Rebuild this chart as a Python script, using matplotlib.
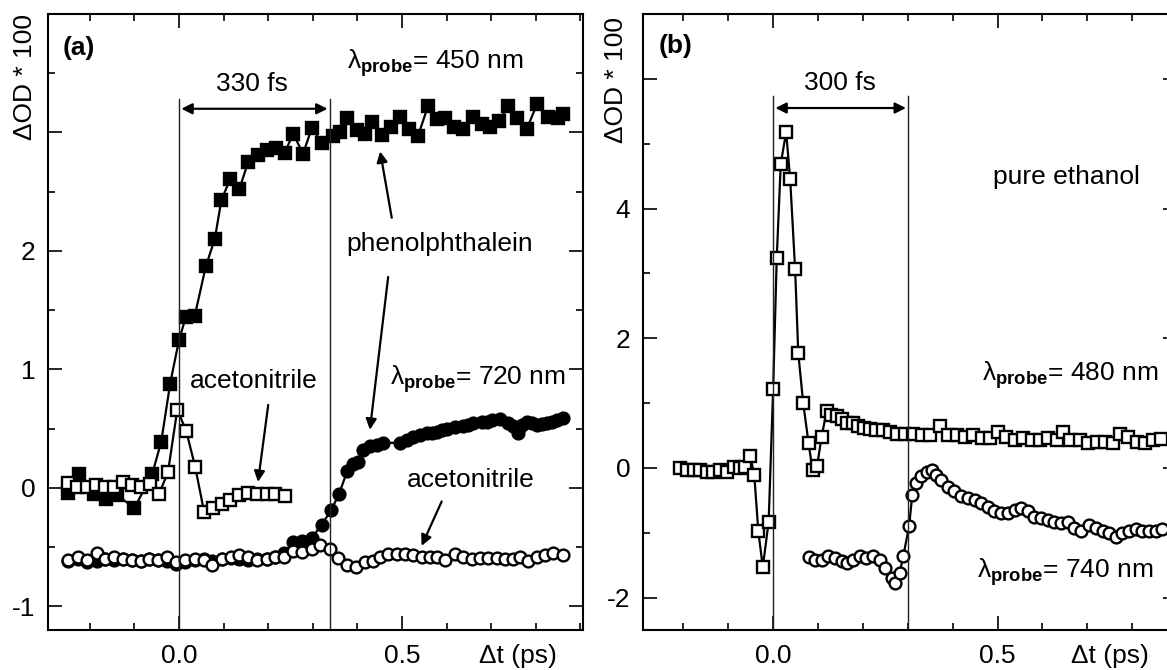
import matplotlib
matplotlib.use('Agg')
import matplotlib.pyplot as plt
from matplotlib.ticker import MultipleLocator, FuncFormatter

plt.rcParams['font.family'] = ['Liberation Sans', 'DejaVu Sans']
plt.rcParams['mathtext.fontset'] = 'custom'
plt.rcParams['mathtext.rm'] = 'Liberation Sans'
plt.rcParams['mathtext.it'] = 'Liberation Sans:italic'
plt.rcParams['mathtext.bf'] = 'Liberation Sans:bold'

# ---- panel (a): phenolphthalein / acetonitrile ----
t_a450 = [-0.25, -0.225, -0.19, -0.165, -0.14, -0.10, -0.06, -0.04, -0.02, 0.0,
          0.015, 0.035, 0.06, 0.08, 0.095, 0.115, 0.135, 0.155, 0.177, 0.197,
          0.217, 0.237, 0.256, 0.278, 0.298, 0.32, 0.345, 0.36, 0.377, 0.40,
          0.418, 0.433, 0.455, 0.476, 0.496, 0.516, 0.536, 0.558, 0.578, 0.596,
          0.617, 0.637, 0.659, 0.679, 0.698, 0.718, 0.738, 0.758, 0.78, 0.803,
          0.827, 0.85, 0.862]
od_a450 = [-0.04, 0.12, -0.05, -0.09, -0.06, -0.17, 0.12, 0.39, 0.88, 1.25,
           1.44, 1.45, 1.87, 2.10, 2.43, 2.61, 2.52, 2.75, 2.81, 2.85,
           2.87, 2.83, 2.99, 2.82, 3.04, 2.91, 2.97, 3.00, 3.12, 3.02,
           2.99, 3.09, 2.98, 3.05, 3.13, 3.03, 2.97, 3.22, 3.11, 3.12,
           3.05, 3.03, 3.13, 3.07, 3.05, 3.10, 3.22, 3.12, 3.03, 3.24,
           3.13, 3.12, 3.16]

t_a450_acn = [-0.249, -0.229, -0.206, -0.186, -0.166, -0.146, -0.126, -0.105, -0.085, -0.065,
              -0.045, -0.025, -0.004, 0.016, 0.036, 0.056, 0.076, 0.096, 0.114, 0.135,
              0.155, 0.175, 0.197, 0.215, 0.238]
od_a450_acn = [0.04, 0.01, 0.01, 0.02, 0.01, 0.01, 0.05, 0.02, 0.01, 0.03,
               -0.05, 0.13, 0.66, 0.48, 0.18, -0.20, -0.17, -0.14, -0.10, -0.06,
               -0.04, -0.05, -0.05, -0.05, -0.07]

t_a720 = [-0.249, -0.226, -0.206, -0.184, -0.166, -0.146, -0.126, -0.105, -0.085, -0.067,
          -0.047, -0.027, -0.007, 0.013, 0.036, 0.056, 0.074, 0.096, 0.117, 0.135,
          0.155, 0.175, 0.197, 0.215, 0.235, 0.256, 0.276, 0.298, 0.32, 0.341,
          0.359, 0.377, 0.39, 0.401, 0.413, 0.428, 0.444, 0.457, 0.496, 0.511,
          0.525, 0.54, 0.556, 0.567, 0.578, 0.59, 0.601, 0.619, 0.637, 0.648,
          0.659, 0.679, 0.69, 0.702, 0.72, 0.738, 0.75, 0.76, 0.77, 0.78,
          0.792, 0.803, 0.815, 0.825, 0.837, 0.848, 0.861]
od_a720 = [-0.62, -0.60, -0.63, -0.62, -0.60, -0.61, -0.60, -0.61, -0.62, -0.60,
           -0.61, -0.62, -0.64, -0.63, -0.61, -0.60, -0.62, -0.60, -0.59, -0.60,
           -0.61, -0.60, -0.60, -0.58, -0.55, -0.46, -0.45, -0.42, -0.31, -0.19,
           -0.05, 0.14, 0.20, 0.22, 0.32, 0.35, 0.36, 0.38, 0.38, 0.40,
           0.43, 0.45, 0.46, 0.46, 0.47, 0.49, 0.50, 0.51, 0.52, 0.53,
           0.55, 0.56, 0.56, 0.57, 0.58, 0.55, 0.52, 0.46, 0.53, 0.56,
           0.55, 0.53, 0.54, 0.55, 0.56, 0.57, 0.59]

t_a720_acn = [-0.249, -0.226, -0.206, -0.184, -0.166, -0.146, -0.126, -0.105, -0.085, -0.067,
              -0.047, -0.027, -0.007, 0.013, 0.036, 0.056, 0.074, 0.096, 0.117, 0.135,
              0.155, 0.175, 0.197, 0.215, 0.235, 0.256, 0.276, 0.298, 0.316, 0.339,
              0.357, 0.377, 0.397, 0.417, 0.435, 0.451, 0.469, 0.489, 0.507, 0.525,
              0.545, 0.563, 0.578, 0.596, 0.619, 0.637, 0.657, 0.675, 0.693, 0.713,
              0.731, 0.749, 0.765, 0.783, 0.803, 0.821, 0.839, 0.861]
od_a720_acn = [-0.61, -0.58, -0.61, -0.55, -0.60, -0.58, -0.60, -0.61, -0.62, -0.60,
               -0.61, -0.58, -0.63, -0.61, -0.60, -0.61, -0.65, -0.60, -0.58, -0.57,
               -0.58, -0.61, -0.60, -0.58, -0.58, -0.53, -0.54, -0.52, -0.48, -0.52,
               -0.59, -0.65, -0.67, -0.63, -0.62, -0.58, -0.56, -0.56, -0.56, -0.57,
               -0.58, -0.58, -0.58, -0.61, -0.56, -0.58, -0.60, -0.59, -0.59, -0.59,
               -0.60, -0.60, -0.58, -0.62, -0.58, -0.57, -0.55, -0.57]

# ---- panel (b): pure ethanol ----
t_b480 = [-0.207, -0.192, -0.177, -0.162, -0.147, -0.133, -0.118, -0.103, -0.088, -0.073,
          -0.062, -0.051, -0.042, -0.033, -0.023, -0.01, 0.0, 0.008, 0.017, 0.029,
          0.038, 0.049, 0.056, 0.067, 0.079, 0.088, 0.098, 0.108, 0.119, 0.13,
          0.142, 0.153, 0.165, 0.178, 0.19, 0.202, 0.215, 0.23, 0.245, 0.26,
          0.275, 0.294, 0.312, 0.331, 0.35, 0.372, 0.39, 0.409, 0.428, 0.446,
          0.465, 0.483, 0.502, 0.52, 0.539, 0.557, 0.576, 0.595, 0.613, 0.632,
          0.647, 0.661, 0.684, 0.702, 0.721, 0.739, 0.758, 0.773, 0.791, 0.81,
          0.828, 0.847, 0.865]
od_b480 = [0.0, -0.03, -0.03, -0.04, -0.06, -0.07, -0.03, -0.06, 0.02, 0.0,
           0.02, 0.18, -0.11, -0.98, -1.53, -0.83, 1.21, 3.23, 4.69, 5.18,
           4.45, 3.06, 1.77, 1.0, 0.38, -0.04, 0.03, 0.48, 0.87, 0.82,
           0.80, 0.75, 0.70, 0.69, 0.64, 0.61, 0.60, 0.58, 0.58, 0.56,
           0.53, 0.53, 0.53, 0.51, 0.51, 0.64, 0.51, 0.51, 0.48, 0.51,
           0.46, 0.46, 0.56, 0.48, 0.43, 0.46, 0.43, 0.43, 0.46, 0.43,
           0.56, 0.43, 0.43, 0.38, 0.40, 0.40, 0.38, 0.53, 0.48, 0.40,
           0.38, 0.43, 0.45]

t_b740 = [0.079, 0.093, 0.108, 0.123, 0.138, 0.153, 0.164, 0.178, 0.193, 0.208,
          0.223, 0.238, 0.249, 0.264, 0.271, 0.282, 0.29, 0.303, 0.31, 0.319,
          0.33, 0.342, 0.353, 0.364, 0.375, 0.39, 0.404, 0.419, 0.434, 0.449,
          0.464, 0.478, 0.493, 0.508, 0.523, 0.538, 0.553, 0.567, 0.582, 0.597,
          0.612, 0.627, 0.642, 0.656, 0.671, 0.686, 0.704, 0.719, 0.734, 0.749,
          0.764, 0.778, 0.793, 0.808, 0.823, 0.838, 0.853, 0.867]
od_b740 = [-1.38, -1.42, -1.42, -1.36, -1.39, -1.44, -1.47, -1.42, -1.36, -1.39,
           -1.36, -1.42, -1.54, -1.70, -1.77, -1.62, -1.36, -0.90, -0.42, -0.24,
           -0.13, -0.06, -0.03, -0.11, -0.18, -0.29, -0.36, -0.44, -0.47, -0.49,
           -0.54, -0.60, -0.67, -0.70, -0.70, -0.65, -0.62, -0.67, -0.75, -0.77,
           -0.80, -0.83, -0.85, -0.83, -0.93, -0.98, -0.88, -0.93, -0.98, -1.00,
           -1.06, -1.00, -0.98, -0.95, -0.98, -0.98, -0.98, -0.95]

FS = 19
W, H = 1167, 670
fig = plt.figure(figsize=(W / 100, H / 100), dpi=100)
ax_a = fig.add_axes([48 / W, 40 / H, 535 / W, 616 / H])
ax_b = fig.add_axes([643 / W, 40 / H, 534 / W, 616 / H])

mk = dict(ms=8.5, mew=1.7, lw=1.6, color='black', mec='black')


def style_axes(ax, xlim, ylim, ymajor, ymax_label, dt_x):
    ax.set_xlim(*xlim)
    ax.set_ylim(*ylim)
    ax.xaxis.set_major_locator(MultipleLocator(0.5))
    ax.xaxis.set_minor_locator(MultipleLocator(0.1))
    ax.xaxis.set_major_formatter(FuncFormatter(lambda v, p: f'{v:.1f}'))
    ax.yaxis.set_major_locator(MultipleLocator(ymajor))
    ax.yaxis.set_minor_locator(MultipleLocator(ymajor / 2))
    ax.yaxis.set_major_formatter(FuncFormatter(
        lambda v, p: '' if v > ymax_label + 1e-6 else f'{v:.0f}'))
    ax.tick_params(which='both', direction='in', top=True, right=True,
                   width=1.2, labelsize=FS)
    ax.tick_params(which='major', length=10)
    ax.tick_params(which='minor', length=5)
    ax.tick_params(axis='x', pad=10)
    ax.tick_params(axis='y', pad=9)
    for s in ax.spines.values():
        s.set_linewidth(1.5)
    ax.annotate('Δt (ps)', xy=(dt_x, 0), xycoords=ax.get_xaxis_transform(),
                xytext=(0, -10), textcoords='offset points',
                fontsize=FS, ha='center', va='top')


def arrow(ax, tail, tip, style='-|>'):
    ax.annotate('', xy=tip, xytext=tail,
                arrowprops=dict(arrowstyle=style, lw=1.6, color='black',
                                mutation_scale=16, shrinkA=0, shrinkB=0))


# panel (a)
ax = ax_a
ax.plot(t_a450, od_a450, marker='s', mfc='black', **mk)
ax.plot(t_a450_acn, od_a450_acn, marker='s', mfc='white', **mk)
ax.plot(t_a720, od_a720, marker='o', mfc='black', **mk)
ax.plot(t_a720_acn, od_a720_acn, marker='o', mfc='white', **mk)
ax.plot([0, 0], [-1.2, 3.28], color='#222222', lw=1.0)
ax.plot([0.338, 0.338], [-1.2, 3.28], color='#222222', lw=1.0)
arrow(ax, (0.005, 3.20), (0.333, 3.20), '<|-|>')
ax.text(0.164, 3.41, '330 fs', fontsize=FS, ha='center', va='center')
ax.text(-0.224, 3.71, '(a)', fontsize=FS, fontweight='bold', ha='center', va='center')
ax.text(0.377, 3.54, 'λ$_{\\mathbf{probe}}$= 450 nm', fontsize=FS, ha='left', va='baseline')
ax.text(0.585, 2.0, 'phenolphthalein', fontsize=FS, ha='center', va='baseline')
arrow(ax, (0.477, 2.28), (0.451, 2.84))
arrow(ax, (0.469, 1.78), (0.428, 0.49))
ax.text(0.473, 0.87, 'λ$_{\\mathbf{probe}}$= 720 nm', fontsize=FS, ha='left', va='baseline')
ax.text(0.655, 0.01, 'acetonitrile', fontsize=FS, ha='center', va='baseline')
arrow(ax, (0.589, -0.115), (0.544, -0.49))
ax.text(0.168, 0.84, 'acetonitrile', fontsize=FS, ha='center', va='baseline')
arrow(ax, (0.2, 0.70), (0.177, 0.05))
style_axes(ax, (-0.294, 0.906), (-1.2, 4.0), 1, 2, 0.76)

# panel (b)
ax = ax_b
ax.plot(t_b480, od_b480, marker='s', mfc='white', **mk)
ax.plot(t_b740, od_b740, marker='o', mfc='white', **mk)
ax.plot([0, 0], [-2.5, 5.74], color='#222222', lw=1.0)
ax.plot([0.301, 0.301], [-2.5, 5.74], color='#222222', lw=1.0)
arrow(ax, (0.005, 5.55), (0.296, 5.55), '<|-|>')
ax.text(0.149, 5.94, '300 fs', fontsize=FS, ha='center', va='center')
ax.text(-0.218, 6.51, '(b)', fontsize=FS, fontweight='bold', ha='center', va='center')
ax.text(0.653, 4.38, 'pure ethanol', fontsize=FS, ha='center', va='baseline')
ax.text(0.465, 1.35, 'λ$_{\\mathbf{probe}}$= 480 nm', fontsize=FS, ha='left', va='baseline')
ax.text(0.454, -1.70, 'λ$_{\\mathbf{probe}}$= 740 nm', fontsize=FS, ha='left', va='baseline')
style_axes(ax, (-0.29, 0.90), (-2.5, 7.0), 2, 4, 0.751)

fig.text(25 / W, 1 - 77 / H, 'ΔOD * 100', rotation=90, fontsize=FS, ha='center', va='center')
fig.text(616 / W, 1 - 80 / H, 'ΔOD * 100', rotation=90, fontsize=FS, ha='center', va='center')

fig.savefig('out.png', dpi=100)
